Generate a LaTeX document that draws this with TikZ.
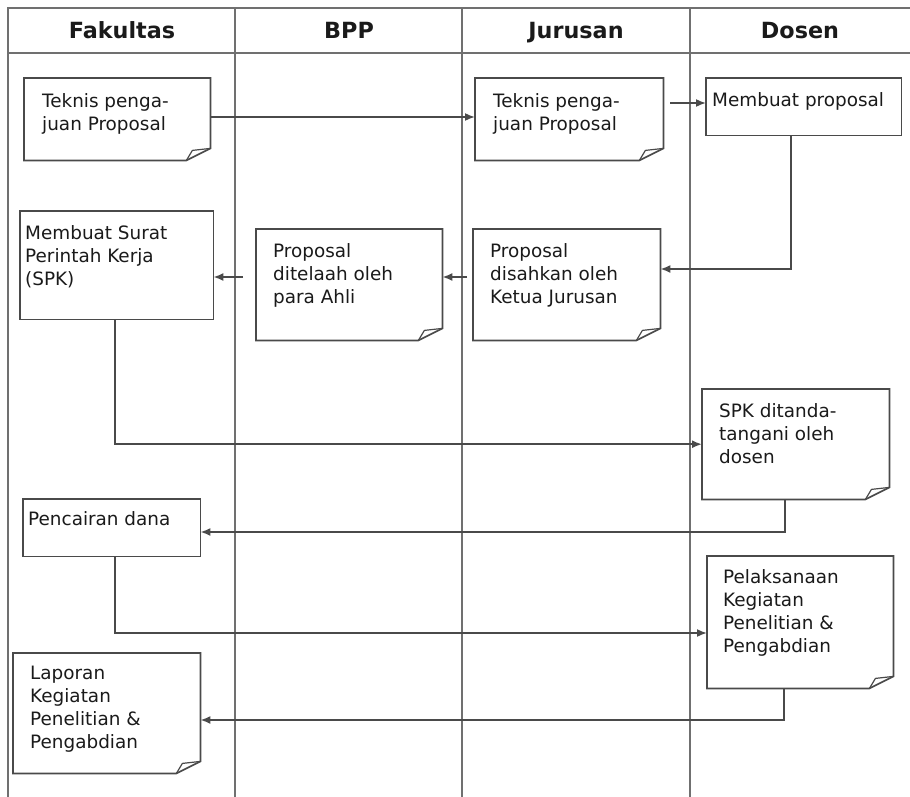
\documentclass[tikz,border=0pt]{standalone}
\usepackage{fontspec}
\setmainfont{DejaVu Sans}
\usetikzlibrary{arrows.meta,calc}
\definecolor{frame}{HTML}{707070}
\definecolor{edge}{HTML}{4A4A4A}
\definecolor{ink}{HTML}{1A1A1A}
\begin{document}
\begin{tikzpicture}[x=1pt,y=-1pt,
  lane/.style={draw=frame,line width=1.3pt},
  hdr/.style={font=\fontsize{22.3}{26}\selectfont\bfseries,text=ink,anchor=base,inner sep=0pt},
  boxnode/.style={draw=none,inner sep=0pt,anchor=north west},
  boxline/.style={draw=edge,line width=1.7pt,line join=miter},
  txt/.style={font=\fontsize{18.4}{23}\selectfont,text=ink,align=left,anchor=north west,inner sep=0pt},
  arr/.style={draw=edge,line width=1.7pt,-{Latex[length=10pt,width=8pt]}}]
\useasboundingbox (0,0) rectangle (910,797);
% frame
\draw[lane] (910,8) -- (8,8) -- (8,797);
\draw[lane] (8,53) -- (910,53);
\foreach \x in {235,462,690} \draw[lane] (\x,8) -- (\x,797);
\node[hdr] (h1) at (122,39) {Fakultas};
\node[hdr] (h2) at (349,39) {BPP};
\node[hdr] (h3) at (576,39) {Jurusan};
\node[hdr] (h4) at (800,39) {Dosen};
% box nodes
\node[boxnode,minimum width=186pt,minimum height=82pt]  (b1)  at (24,78)  {};
\node[boxnode,minimum width=188pt,minimum height=82pt]  (b2)  at (475,78) {};
\node[boxnode,minimum width=195pt,minimum height=57pt]  (b3)  at (706,78) {};
\node[boxnode,minimum width=193pt,minimum height=108pt] (b4)  at (20,211) {};
\node[boxnode,minimum width=186pt,minimum height=111pt] (b5)  at (256,229) {};
\node[boxnode,minimum width=187pt,minimum height=111pt] (b6)  at (473,229) {};
\node[boxnode,minimum width=187pt,minimum height=110pt] (b7)  at (702,389) {};
\node[boxnode,minimum width=177pt,minimum height=57pt]  (b8)  at (23,499) {};
\node[boxnode,minimum width=186pt,minimum height=132pt] (b9)  at (707,556) {};
\node[boxnode,minimum width=187pt,minimum height=120pt] (b10) at (13,653) {};
% plain rectangles
\foreach \n in {b3,b4,b8} \draw[boxline] (\n.north west) rectangle (\n.south east);
% note shapes with folded corner
\foreach \n in {b1,b2,b5,b6,b7,b9,b10} {
  \draw[boxline] (\n.north west) -- (\n.north east) -- ([yshift=12pt]\n.south east)
    -- ([xshift=-24pt]\n.south east) -- (\n.south west) -- cycle;
  \draw[draw=edge,line width=1.2pt,line join=round] ([xshift=-24pt]\n.south east) -- ([xshift=-18pt,yshift=10pt]\n.south east) -- ([yshift=12pt]\n.south east);
}
% texts
\node[txt] (t1)  at (42,93)   {Teknis penga-\\juan Proposal};
\node[txt] (t2)  at (493,93)  {Teknis penga-\\juan Proposal};
\node[txt] (t3)  at (712,92)  {Membuat proposal};
\node[txt] (t4)  at (25,225)  {Membuat Surat\\Perintah Kerja\\(SPK)};
\node[txt] (t5)  at (273,243) {Proposal\\ditelaah oleh\\para Ahli};
\node[txt] (t6)  at (490,243) {Proposal\\disahkan oleh\\Ketua Jurusan};
\node[txt] (t7)  at (719,403) {SPK ditanda-\\tangani oleh\\dosen};
\node[txt] (t8)  at (28,511)  {Pencairan dana};
\node[txt] (t9)  at (723,569) {Pelaksanaan\\Kegiatan\\Penelitian \&\\Pengabdian};
\node[txt] (t10) at (30,666)  {Laporan\\Kegiatan\\Penelitian \&\\Pengabdian};
% connectors
\draw[arr] ([yshift=-39pt]b1.north east) -- ([yshift=-39pt]b2.north west);
\draw[arr] ([xshift=7pt,yshift=-25pt]b2.north east) -- ([yshift=-25pt]b3.north west);
\draw[arr] ([xshift=-13pt]b3.south) |- ([yshift=-40pt]b6.north east);
\draw[arr] ([xshift=-6pt,yshift=-48pt]b6.north west) -- ([yshift=-48pt]b5.north east);
\draw[arr] ([xshift=-13pt,yshift=-48pt]b5.north west) -- ([yshift=-66pt]b4.north east);
\draw[arr] ([xshift=-1.5pt]b4.south) |- (b7.west);
\draw[arr] ([xshift=-11pt]b7.south) |- ([yshift=-33pt]b8.north east);
\draw[arr] ([xshift=3.5pt]b8.south) |- ([yshift=-77pt]b9.north west);
\draw[arr] ([xshift=-16pt]b9.south) |- ([yshift=-67pt]b10.north east);
\end{tikzpicture}
\end{document}
